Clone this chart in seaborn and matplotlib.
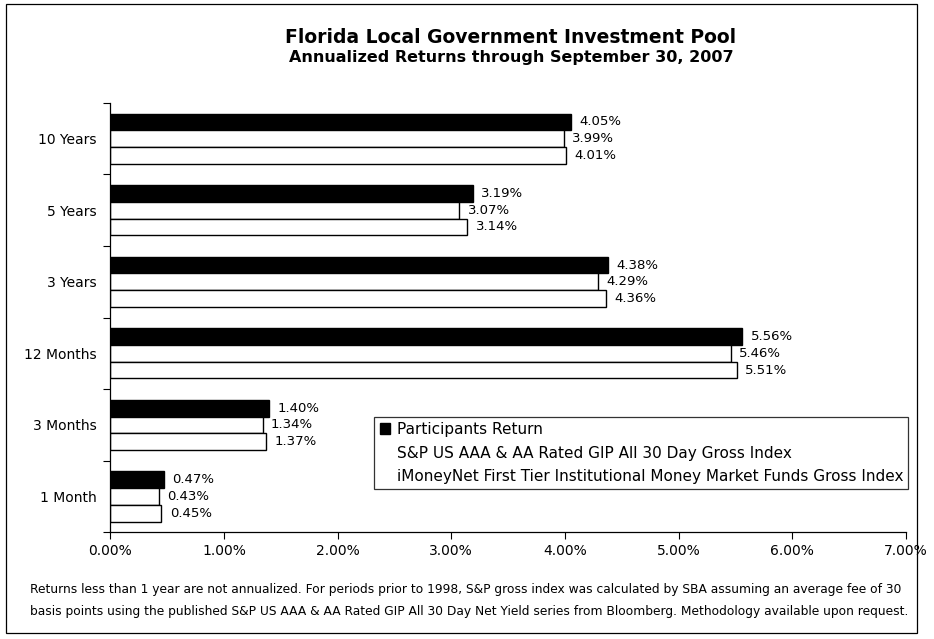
# Florida LGIP annualized returns chart

import matplotlib
matplotlib.use('Agg')
import matplotlib.pyplot as plt
import matplotlib.patches as mpatches
import seaborn as sns
import pandas as pd
from matplotlib.ticker import FuncFormatter, FixedLocator

periods = ['10 Years', '5 Years', '3 Years', '12 Months', '3 Months', '1 Month']
series_names = ['Participants Return',
                'S&P US AAA & AA Rated GIP All 30 Day Gross Index',
                'iMoneyNet First Tier Institutional Money Market Funds Gross Index']
participants = [4.05, 3.19, 4.38, 5.56, 1.40, 0.47]
sp_index = [3.99, 3.07, 4.29, 5.46, 1.34, 0.43]
imoneynet = [4.01, 3.14, 4.36, 5.51, 1.37, 0.45]
x_ticks = [0, 1, 2, 3, 4, 5, 6, 7]

footnote = ("Returns less than 1 year are not annualized. For periods prior to 1998, S&P gross index was calculated by SBA assuming an average fee of 30\n"
            "basis points using the published S&P US AAA & AA Rated GIP All 30 Day Net Yield series from Bloomberg. Methodology available upon request.")

df = pd.DataFrame({
    'Period': periods * 3,
    'Series': [series_names[0]] * 6 + [series_names[1]] * 6 + [series_names[2]] * 6,
    'Return': participants + sp_index + imoneynet,
})

sns.set_style('white')
plt.rcParams['font.family'] = ['DejaVu Sans']
plt.rcParams['text.color'] = 'black'
plt.rcParams['xtick.color'] = 'black'
plt.rcParams['ytick.color'] = 'black'
plt.rcParams['axes.labelcolor'] = 'black'

fig = plt.figure(figsize=(9.34, 6.39), dpi=100)
ax = fig.add_axes([0.118, 0.167, 0.852, 0.672])

sns.barplot(data=df, y='Period', x='Return', hue='Series', order=periods,
            hue_order=series_names, palette=['black', 'white', 'white'],
            edgecolor='black', linewidth=1.0, width=0.7, orient='h',
            legend=False, ax=ax)

for container in ax.containers:
    ax.bar_label(container, labels=[f'{v:.2f}%' for v in container.datavalues],
                 padding=6, fontsize=9.5, color='black')

ax.set_xlim(0, 7)
ax.set_ylim(len(periods) - 0.5, -0.5)
ax.xaxis.set_major_locator(FixedLocator(x_ticks))
ax.xaxis.set_major_formatter(FuncFormatter(lambda v, p: f'{v:.2f}%'))
ax.yaxis.set_minor_locator(FixedLocator([i - 0.5 for i in range(len(periods) + 1)]))
ax.tick_params(axis='y', which='major', length=0, labelsize=10, pad=10)
ax.tick_params(axis='y', which='minor', length=5, width=0.8, left=True, color='black')
ax.tick_params(axis='x', length=5, width=0.8, bottom=True, labelsize=10, color='black')
ax.set_xlabel('')
ax.set_ylabel('')
for side in ['top', 'right']:
    ax.spines[side].set_visible(False)
for side in ['left', 'bottom']:
    ax.spines[side].set_color('black')
    ax.spines[side].set_linewidth(0.9)

handles = [mpatches.Patch(facecolor='black', edgecolor='black'),
           mpatches.Patch(facecolor='white', edgecolor='white'),
           mpatches.Patch(facecolor='white', edgecolor='white')]
leg = ax.legend(handles, series_names, loc='lower right', bbox_to_anchor=(1.003, 0.10),
                fontsize=11, frameon=True, fancybox=False, handlelength=0.7,
                handleheight=0.7, handletextpad=0.4, labelspacing=0.55,
                borderpad=0.35, borderaxespad=0)
leg.get_frame().set_edgecolor('black')
leg.get_frame().set_linewidth(0.9)
for t in leg.get_texts():
    t.set_color('black')

fig.text(0.547, 0.942, 'Florida Local Government Investment Pool', ha='center',
         va='center', fontsize=13.5, fontweight='bold')
fig.text(0.547, 0.91, 'Annualized Returns through September 30, 2007', ha='center',
         va='center', fontsize=11.5, fontweight='bold')
fig.text(0.032, 0.06, footnote, ha='left', va='center', fontsize=8.8, linespacing=1.9)

fig.patches.append(mpatches.Rectangle((0.006, 0.01), 0.976, 0.984, fill=False,
                                      edgecolor='black', linewidth=0.9,
                                      transform=fig.transFigure))

plt.savefig('out.png', dpi=100)
